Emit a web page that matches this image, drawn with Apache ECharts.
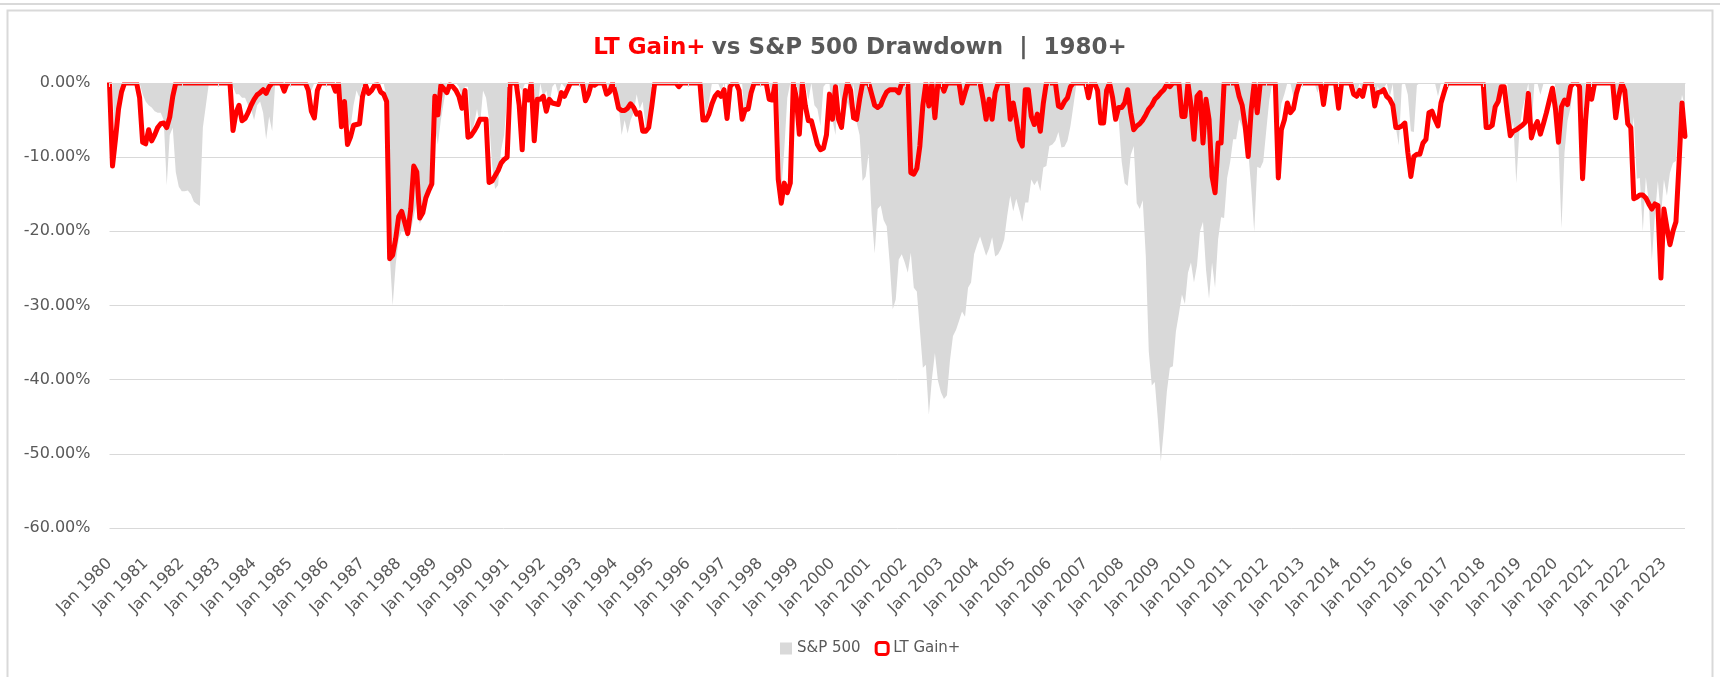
<!DOCTYPE html>
<html>
<head>
<meta charset="utf-8">
<title>LT Gain+ vs S&amp;P 500 Drawdown</title>
<script src="https://cdn.jsdelivr.net/npm/echarts@6.0.0/dist/echarts.min.js"></script>
<style>
  html, body { margin: 0; padding: 0; background: #ffffff; }
  #chart { width: 1720px; height: 677px; }
</style>
</head>
<body>
<div id="chart"></div>
<script>
// Monthly drawdowns in percent, Jan 1980 - Aug 2023, one row per year
const START_YEAR = 1980
const MONTH_NAMES = ['Jan', 'Feb', 'Mar', 'Apr', 'May', 'Jun', 'Jul', 'Aug', 'Sep', 'Oct', 'Nov', 'Dec']

const sp500 = [
  0, 0, -10, -6, -1, 0, 0, 0, 0, 0, 0, -1.5,
  -2.5, -3, -3.3, -3.8, -4, -4, -5, -13.8, -7, -6, -12, -14,
  -14.6, -14.6, -14.5, -15, -16, -16.3, -16.6, -6, -3, 0, 0, 0,
  0, 0, 0, 0, 0, -0.5, -1.5, -1.5, -2, -2, -3, -3.5,
  -5, -3, -2.5, -4, -7.6, -4.5, -6.5, 0, 0, 0, 0, 0,
  0, 0, 0, 0, 0, 0, -0.5, -1, 0, 0, 0, 0,
  0, 0, 0, -1, -0.5, -2, -4, -5, -6, -3, -1, -2,
  0, 0, 0, 0, 0, 0, 0, 0, -2, -23, -30, -24.5,
  -21, -20, -20, -21, -20, -18, -16, -19, -18, -15, -15, -14,
  -6, -8.3, -5, -2.5, 0, 0, 0, 0, -0.5, -2, -0.5, -0.5,
  -6.7, -5.6, -3.5, -5.7, -1, -2, -5, -11, -14.3, -13.8, -9, -7,
  -2, 0, 0, 0, -0.5, -1, 0, 0, -1.5, -1, -4, 0,
  -2, -1, -3, -0.5, 0, -1.5, 0, -0.5, -1, -0.5, 0, 0,
  0, 0, 0, -2.5, -0.5, 0, -0.5, 0, -1, 0, -1, 0,
  0, -3, -7, -5, -6.8, -5, -4, -1.5, -3.5, -2.5, -6, -5.5,
  -3, 0, 0, 0, 0, 0, 0, 0, 0, 0, 0, 0,
  0, 0, 0, 0, 0, -0.5, -4.5, -2.5, 0, 0, 0, -1,
  0, 0, -4, 0, 0, 0, 0, -5.5, -1.5, -3.4, 0, 0,
  0, 0, 0, 0, -1.7, 0, -1, -14.5, -9, -2, 0, 0,
  0, -2, 0, 0, -2.3, 0, -3, -3.5, -5.8, -0.5, 0, 0,
  -5, -7, 0, -3, -5, -2.6, -4, 0, -5.3, -7, -13.2, -12.6,
  -9.5, -17.8, -23, -17, -16.5, -18.5, -19.3, -24.3, -30.5, -29.2, -23.8, -23.1,
  -24.2, -25.6, -22.9, -27.6, -28.1, -33.2, -38.4, -38, -44.7, -39.9, -36.4, -40.1,
  -41.7, -42.6, -42.1, -37.4, -34.1, -33.3, -32.1, -30.8, -31.5, -27.6, -26.9, -23.1,
  -21.8, -20.7, -22, -23.3, -22.3, -20.8, -23.4, -23.1, -22.3, -21.1, -17.9, -15.2,
  -17.3, -15.6, -17.1, -18.7, -16.1, -16.1, -13, -13.8, -13.1, -14.6, -11.4, -11.2,
  -8.5, -8.3, -7.8, -6.6, -8.7, -8.6, -7.8, -5.8, -3, 0, 0, 0,
  0, -1.9, -0.9, 0, 0, -1.7, -4.8, -3.5, -0.2, 0, -4.2, -4.9,
  -10.6, -13.5, -13.9, -9.7, -8.5, -16.2, -17, -15.8, -23.3, -36.2, -40.8, -40.3,
  -45.3, -51, -46.7, -41.6, -38.4, -38.2, -33.5, -31.1, -28.5, -29.8, -25.6, -24.2,
  -26.9, -24.6, -20, -18.7, -25.2, -29.1, -24.2, -27.6, -21.1, -18.1, -18.2, -12.8,
  -10.7, -7.6, -7.6, -4.9, -5.9, -7.4, -9.2, -14.1, -20.1, -11.3, -11.5, -10.6,
  -6.4, -2.3, 0, -0.6, -6.6, -2.8, -1.5, 0, 0, -1.9, -1.5, -0.6,
  0, 0, 0, 0, 0, -1.3, 0, -2.9, 0, 0, 0, 0,
  -3.5, 0, 0, 0, 0, 0, -1.4, 0, -1.4, 0, 0, -0.3,
  -3, -0.4, -1.6, -0.7, 0, -1.9, -0.1, -6, -8.4, -0.2, 0, -1.6,
  -6.5, -6.6, -0.3, 0, 0, 0, 0, 0, 0, -1.8, 0, 0,
  0, 0, 0, 0, 0, 0, 0, 0, 0, 0, 0, 0,
  0, -3.7, -6.2, -5.9, -3.5, -3, 0, 0, 0, -6.8, -5.2, -13.5,
  -6.6, -3.6, -1.9, 0, -6.4, 0, 0, -1.6, -0.1, 0, 0, 0,
  0, -8.2, -19.6, -9.4, -5.1, -3.3, 0, 0, -3.8, -6.4, 0, 0,
  -1, 0, 0, 0, 0, 0, 0, 0, -4.7, 0, -0.7, 0,
  -5.2, -8.1, -4.6, -12.9, -12.8, -20, -12.7, -16.2, -23.9, -17.8, -13.2, -18.1,
  -13, -15.2, -12.1, -10.8, -10.5, -4.7, -1.6, -3.2
]

const ltGain = [
  0, -11.2, -7.5, -3.5, -1.2, 0, 0, 0, 0, 0, -2, -8,
  -8.2, -6.3, -7.8, -7, -6, -5.5, -5.4, -6, -4.6, -1.8, 0, 0,
  0, 0, 0, 0, 0, 0, 0, 0, 0, 0, 0, 0,
  0, 0, 0, 0, 0, -6.4, -4, -3, -5.1, -4.8, -4, -3,
  -2.2, -1.6, -1.3, -0.9, -1.4, -0.5, 0, 0, 0, 0, -1.1, 0,
  0, 0, 0, 0, 0, 0, -1, -3.8, -4.7, -1, 0, 0,
  0, 0, 0, -1.1, 0, -5.9, -2.5, -8.3, -7.3, -5.7, -5.6, -5.5,
  -1.8, -0.3, -1.4, -1, -0.3, -0.2, -1.2, -1.5, -2.5, -23.7, -23.2, -21,
  -18, -17.3, -18.8, -20.3, -17, -11.2, -12, -18.2, -17.5, -15.5, -14.5, -13.6,
  -1.8, -4.3, -0.3, -0.8, -1.3, -0.2, -0.5, -1, -1.8, -3.4, -1, -7.3,
  -7.1, -6.5, -5.8, -4.9, -4.9, -4.9, -13.4, -13.2, -12.5, -11.8, -10.8, -10.3,
  -10, 0, 0, 0, -3, -9, -1, -2.3, 0, -7.8, -2.2, -2.2,
  -1.8, -3.8, -2.2, -2.7, -2.8, -2.9, -1.3, -1.8, -0.9, 0, 0, 0,
  0, 0, -2.4, -1.5, 0, -0.3, 0, 0, 0, -1.5, -1.2, 0,
  -1.5, -3.4, -3.7, -3.7, -3.4, -2.8, -3.3, -4.2, -4, -6.5, -6.5, -6,
  -3.2, 0, 0, 0, 0, 0, 0, 0, 0, -0.5, 0, 0,
  0, 0, 0, 0, 0, -5, -5, -4.2, -2.8, -1.8, -1.3, -1.8,
  -0.9, -4.8, -0.5, 0, 0, -1, -4.9, -3.6, -3.5, -1.3, 0, 0,
  0, 0, 0, -2.2, -2.3, 0, -13, -16.2, -13.5, -14.8, -13.5, 0,
  -2, -6.9, 0, -3.1, -5.1, -5.1, -6.7, -8.3, -9, -8.8, -7, -1.5,
  -4.9, -0.5, -4.9, -6, -2.2, 0, -1, -4.7, -4.9, -2.2, 0, 0,
  0, -1.5, -3, -3.3, -3, -2, -1.2, -0.9, -0.9, -0.9, -1.3, 0,
  0, 0, -12.1, -12.3, -11.5, -8.5, -3, 0, -3.1, 0, -4.7, 0,
  0, -1.1, 0, 0, 0, 0, 0, -2.7, -1.3, 0, 0, 0,
  0, 0, -2.2, -4.9, -2.2, -4.9, -1.3, 0, 0, 0, 0, -4.9,
  -2.7, -4.9, -7.6, -8.5, -0.9, -0.9, -4.5, -5.6, -4.2, -6.5, -2.7, 0,
  0, 0, 0, -3.1, -3.3, -2.5, -2, -0.5, 0, 0, 0, 0,
  0, -2, 0, 0, -1, -5.4, -5.4, -1, 0, -2, -4.9, -3.3,
  -3.3, -2.7, -0.9, -4, -6.3, -5.8, -5.5, -5, -4.3, -3.5, -3, -2.2,
  -1.8, -1.3, -0.9, -0.2, -0.5, 0, 0, 0, -4.5, -4.5, 0, -3,
  -7.6, -1.8, -1.3, -8.1, -2.2, -4.9, -12.6, -14.8, -8.1, -8.1, 0, 0,
  0, 0, 0, -1.8, -3, -5.8, -9.9, -3.6, 0, -4, 0, 0,
  0, 0, 0, 0, -12.8, -6.3, -5, -2.7, -4, -3.5, -1.4, 0,
  0, 0, 0, 0, 0, 0, 0, -2.9, 0, 0, 0, 0,
  -3.4, 0, 0, 0, 0, -1.5, -1.8, -1, -1.8, 0, 0, 0,
  -3.1, -1.3, -1.2, -0.9, -1.8, -2.2, -3, -6, -6, -5.8, -5.4, -9.4,
  -12.6, -9.9, -9.6, -9.6, -8.1, -7.6, -4, -3.8, -4.9, -5.8, -2.7, -1.3,
  0, 0, 0, 0, 0, 0, 0, 0, 0, 0, 0, 0,
  0, -6, -6, -5.7, -3.2, -2.5, -0.5, -0.5, -4, -7.1, -6.5, -6.3,
  -6, -5.7, -5.3, -1.4, -7.4, -6, -5.2, -6.9, -5.5, -4, -2.3, -0.7,
  -3.5, -8, -3.2, -2.3, -2.9, -0.5, 0, 0, -0.5, -12.9, -5, 0,
  -2.2, 0, 0, 0, 0, 0, 0, 0, -4.7, -1.8, 0, -1,
  -5.5, -6, -15.6, -15.4, -15.1, -15.1, -15.5, -16.3, -17, -16.3, -16.5, -26.3,
  -17, -19.5, -21.8, -20, -18.7, -11, -2.7, -7.2
]

const yTicks = [0, -10, -20, -30, -40, -50, -60]

const months = []
for (let i = 0; i < sp500.length; i++) {
  months.push(MONTH_NAMES[i % 12] + ' ' + (START_YEAR + Math.floor(i / 12)))
}

const FONT = 'DejaVu Sans'
const TEXT_GRAY = '#595959'
const LINE_GRAY = '#d9d9d9'
const PLOT_TOP = 83

const chart = echarts.init(document.getElementById('chart'), null, { renderer: 'canvas' })

chart.setOption({
  animation: false,
  backgroundColor: '#ffffff',
  textStyle: { fontFamily: FONT },
  title: {
    text: '{r|LT Gain+} {g|vs S&P 500 Drawdown  |  1980+}',
    left: 'center',
    top: 32,
    textStyle: {
      rich: {
        r: { color: '#ff0000', fontSize: 23, fontWeight: 'bold', fontFamily: FONT },
        g: { color: TEXT_GRAY, fontSize: 23, fontWeight: 'bold', fontFamily: FONT }
      }
    }
  },
  graphic: [
    {
      type: 'line',
      shape: { x1: 0, y1: 4, x2: 1720, y2: 4 },
      style: { stroke: LINE_GRAY, lineWidth: 2 },
      silent: true
    },
    {
      type: 'rect',
      shape: { x: 7.5, y: 10.5, width: 1705, height: 680 },
      style: { fill: 'none', stroke: LINE_GRAY, lineWidth: 2 },
      silent: true
    },
    {
      // hide the part of the thick line that pokes above the zero line
      type: 'rect',
      z: 100,
      shape: { x: 100, y: PLOT_TOP - 18, width: 1605, height: 17.5 },
      style: { fill: '#ffffff' },
      silent: true
    }
  ],
  legend: {
    bottom: 16,
    left: 775,
    itemWidth: 12,
    itemHeight: 12,
    itemGap: 14,
    textStyle: { color: TEXT_GRAY, fontSize: 15, fontFamily: FONT },
    data: [
      { name: 'S&P 500', icon: 'rect', itemStyle: { color: LINE_GRAY } },
      { name: 'LT Gain+', icon: 'roundRect', itemStyle: { color: '#ffffff', borderColor: '#ff0000', borderWidth: 3 } }
    ]
  },
  grid: { left: 109.5, right: 35, top: PLOT_TOP, bottom: 149 },
  xAxis: [
    {
      type: 'category',
      data: months,
      boundaryGap: false,
      position: 'bottom',
      axisLine: { show: false, onZero: false },
      axisTick: { show: false },
      splitLine: { show: false },
      axisLabel: {
        interval: 11,
        rotate: 45,
        margin: 33,
        color: TEXT_GRAY,
        fontSize: 16,
        fontFamily: FONT
      }
    },
    {
      type: 'category',
      data: months,
      boundaryGap: false,
      position: 'top',
      z: 120,
      axisLine: { show: true, onZero: false, lineStyle: { color: LINE_GRAY, width: 1 } },
      axisTick: { show: true, interval: 11, inside: true, length: 4, lineStyle: { color: LINE_GRAY } },
      axisLabel: { show: false },
      splitLine: { show: false }
    }
  ],
  yAxis: {
    type: 'value',
    min: yTicks[yTicks.length - 1],
    max: yTicks[0],
    interval: 10,
    axisLine: { show: false },
    axisTick: { show: false },
    splitLine: { lineStyle: { color: LINE_GRAY, width: 1 } },
    axisLabel: {
      margin: 19,
      color: TEXT_GRAY,
      fontSize: 16,
      fontFamily: FONT,
      formatter: v => v.toFixed(2) + '%'
    }
  },
  series: [
    {
      name: 'S&P 500',
      type: 'line',
      data: sp500,
      symbol: 'none',
      itemStyle: { color: LINE_GRAY },
      lineStyle: { width: 0 },
      areaStyle: { color: LINE_GRAY, opacity: 1 }
    },
    {
      name: 'LT Gain+',
      type: 'line',
      data: ltGain,
      symbol: 'none',
      itemStyle: { color: '#ff0000' },
      lineStyle: { color: '#ff0000', width: 5, join: 'round', cap: 'round' }
    }
  ]
})
</script>
</body>
</html>
